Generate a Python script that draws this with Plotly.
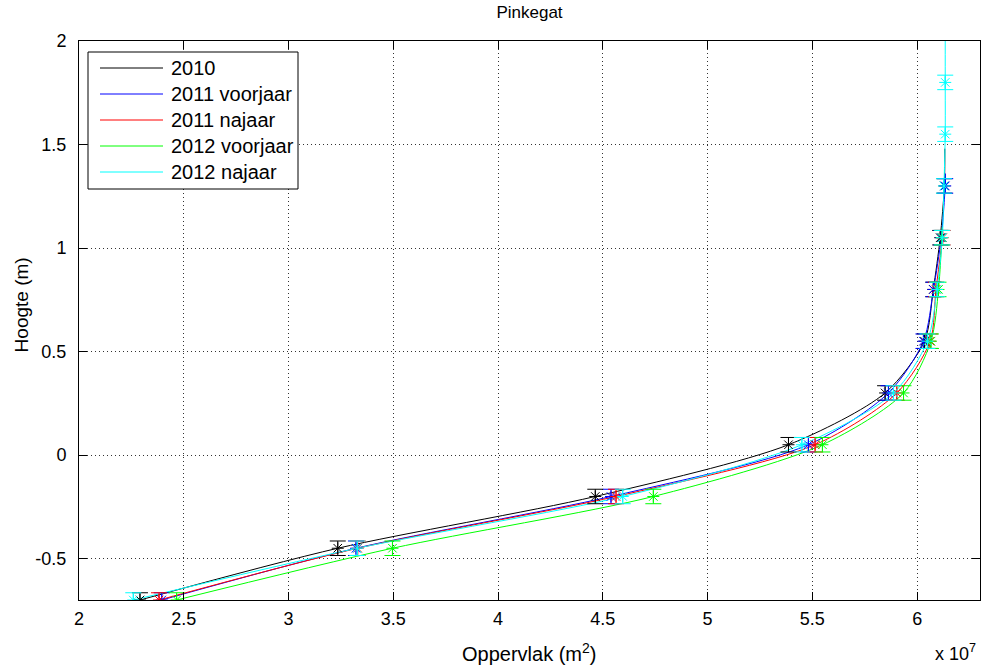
import plotly.graph_objects as go

# Hypsometric curves for the Pinkegat tidal inlet: area (m^2) below each height (m)
series_names = ["2010", "2011 voorjaar", "2011 najaar", "2012 voorjaar", "2012 najaar"]
series_colors = ["#000000", "#0000ff", "#ff0000", "#00ff00", "#00ffff"]

# Heights at which the survey values are marked
marker_heights = [-0.7, -0.45, -0.2, 0.05, 0.3, 0.55, 0.8, 1.05, 1.3, 1.55, 1.8]

# Area (x 1e7 m^2) at each marked height, per survey
area_2010 = [2.291, 3.235, 4.464, 5.386, 5.847, 6.035, 6.077, 6.110, 6.130]
area_2011_vj = [2.395, 3.322, 4.539, 5.481, 5.863, 6.030, 6.078, 6.115, 6.134]
area_2011_nj = [2.382, 3.330, 4.563, 5.513, 5.903, 6.062, 6.090, 6.122]
area_2012_vj = [2.466, 3.496, 4.741, 5.548, 5.935, 6.066, 6.102, 6.118]
area_2012_nj = [2.259, 3.328, 4.595, 5.450, 5.887, 6.049, 6.095, 6.120, 6.128, 6.134, 6.134]

# Highest point of each curve (height, area x 1e7)
top_height = [1.48, 1.36, 1.05, 1.10, 2.00]
top_area = [6.132, 6.135, 6.122, 6.120, 6.134]

# Vertical uncertainty of each marked height (m)
height_error = 0.035

area_sets = [area_2010, area_2011_vj, area_2011_nj, area_2012_vj, area_2012_nj]
SCALE = 1e7

x_ticks = [2, 2.5, 3, 3.5, 4, 4.5, 5, 5.5, 6]
y_ticks = [-0.5, 0, 0.5, 1, 1.5, 2]

FONT = "Liberation Sans, Arial, sans-serif"

# Plot-area geometry in pixels (used to place the boxed legend)
W, H = 987, 668
L, R, T, B = 79, 7, 41, 68
PW, PH = W - L - R, H - T - B


def px_x(px):
    return (px - L) / PW


def px_y(py):
    return (H - B - py) / PH


fig = go.Figure()

for name, color, areas, th, ta in zip(series_names, series_colors, area_sets, top_height, top_area):
    hs = marker_heights[:len(areas)]
    line_x = [a * SCALE for a in areas]
    line_y = list(hs)
    if th > hs[-1]:
        line_x.append(ta * SCALE)
        line_y.append(th)
    fig.add_trace(go.Scatter(
        x=line_x, y=line_y, mode="lines", name=name,
        line=dict(color=color, width=1, shape="spline", smoothing=0.8),
        showlegend=False,
    ))

for name, color, areas in zip(series_names, series_colors, area_sets):
    hs = marker_heights[:len(areas)]
    fig.add_trace(go.Scatter(
        x=[a * SCALE for a in areas], y=hs, mode="markers", name=name,
        marker=dict(symbol="asterisk-open", size=10, color=color,
                    line=dict(color=color, width=1)),
        error_y=dict(type="constant", value=height_error, color=color,
                     thickness=1, width=8),
        showlegend=False,
    ))

# Boxed legend in the upper-left corner of the axes
fig.add_shape(type="rect", xref="paper", yref="paper",
              x0=px_x(88), x1=px_x(298), y0=px_y(189), y1=px_y(52),
              line=dict(color="black", width=1), fillcolor="white", layer="above")
for i, (name, color) in enumerate(zip(series_names, series_colors)):
    yc = px_y(68 + 26 * i)
    fig.add_shape(type="line", xref="paper", yref="paper",
                  x0=px_x(100), x1=px_x(163), y0=yc, y1=yc,
                  line=dict(color=color, width=1), layer="above")
    fig.add_annotation(text=name, xref="paper", yref="paper",
                       x=px_x(169), y=yc, showarrow=False,
                       xanchor="left", yanchor="middle",
                       font=dict(family=FONT, size=20, color="black"))

fig.update_layout(
    width=W, height=H,
    margin=dict(l=L, r=R, t=T, b=B),
    paper_bgcolor="white", plot_bgcolor="white",
    font=dict(family=FONT, size=18, color="black"),
    title=dict(text="Pinkegat", x=(L + W - R) / 2 / W, xanchor="center",
               y=1 - 12 / H, yanchor="middle",
               font=dict(family=FONT, size=17, color="black")),
    showlegend=False,
)

grid_dash = "1px,3px"
fig.update_xaxes(
    range=[2 * SCALE, 6.3 * SCALE],
    tickvals=[t * SCALE for t in x_ticks],
    ticktext=[f"{t:g}" for t in x_ticks],
    ticks="inside", ticklen=8, tickcolor="black", tickwidth=1,
    showline=True, linecolor="black", linewidth=1, mirror="allticks",
    showgrid=True, gridcolor="#333333", griddash=grid_dash, gridwidth=1,
    zeroline=False, ticklabelstandoff=2,
    tickfont=dict(family=FONT, size=18, color="black"),
)
fig.update_yaxes(
    range=[-0.7, 2],
    tickvals=y_ticks,
    ticktext=[f"{t:g}" for t in y_ticks],
    ticks="inside", ticklen=8, tickcolor="black", tickwidth=1,
    showline=True, linecolor="black", linewidth=1, mirror="allticks",
    showgrid=True, gridcolor="#333333", griddash=grid_dash, gridwidth=1,
    zeroline=False, ticklabelstandoff=8,
    tickfont=dict(family=FONT, size=18, color="black"),
)

fig.add_annotation(text="Oppervlak (m<sup>2</sup>)", xref="paper", yref="paper",
                   x=0.5, y=0, yshift=-52, showarrow=False,
                   xanchor="center", yanchor="middle",
                   font=dict(family=FONT, size=20, color="black"))
fig.add_annotation(text="Hoogte (m)", xref="paper", yref="paper",
                   x=0, y=0.527, xshift=-58, showarrow=False, textangle=-90,
                   xanchor="center", yanchor="middle",
                   font=dict(family=FONT, size=19, color="black"))
fig.add_annotation(text="x 10<sup>7</sup>", xref="paper", yref="paper",
                   x=1, y=0, yshift=-52, xshift=-2, showarrow=False,
                   xanchor="right", yanchor="middle",
                   font=dict(family=FONT, size=18, color="black"))

fig.write_html("out.html")
